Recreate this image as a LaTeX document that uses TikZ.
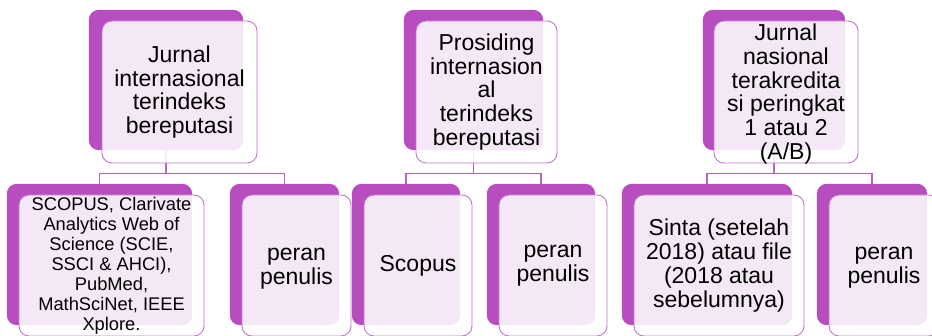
\documentclass[tikz,border=0pt]{standalone}
\usepackage{fontspec}
\setmainfont{Liberation Sans}
\definecolor{pback}{RGB}{183,77,191}
\definecolor{pline}{RGB}{192,118,202}
\definecolor{pconn}{RGB}{180,100,195}
\begin{document}
\begin{tikzpicture}[x=1pt,y=-1pt,
  box/.style 2 args={rectangle, minimum width=#1, minimum height=#2, inner sep=0pt, rounded corners=10pt},
  backbox/.style={fill=pback, draw=none},
  frontbox/.style={fill=white, fill opacity=0.875, draw=pline, line width=0.9pt},
  conn/.style={draw=pconn, line width=1.1pt},
  txt/.style={align=center, text=black, inner sep=0pt, font=\fontsize{23}{23.8}\selectfont},
  smalltxt/.style={align=center, text=black, inner sep=0pt, font=\fontsize{18.3}{20}\selectfont}]
\useasboundingbox (0,0) rectangle (932,336);
\clip (0,0) rectangle (932,336);
% back boxes (named, used by connectors)
\path
  (166,80) node[box={154pt}{140pt}] (t1b) {}
  (473.5,80) node[box={139pt}{140pt}] (t2b) {}
  (774,80) node[box={142pt}{140pt}] (t3b) {}
  (99.5,254.5) node[box={185pt}{141pt}] (c1b) {}
  (284.5,254.5) node[box={109pt}{141pt}] (c2b) {}
  (406,254.5) node[box={108pt}{141pt}] (c3b) {}
  (541,254.5) node[box={108pt}{141pt}] (c4b) {}
  (707,254.5) node[box={170pt}{141pt}] (c5b) {}
  (872,254.5) node[box={110pt}{141pt}] (c6b) {};
% connectors
\draw[conn] (c1b.north) -- ++(0,-10) -| (t1b.south);
\draw[conn] (c2b.north) -- ++(0,-10) -| (t1b.south);
\draw[conn] (c3b.north) -- ++(0,-10) -| (t2b.south);
\draw[conn] (c4b.north) -- ++(0,-10) -| (t2b.south);
\draw[conn] (c5b.north) -- ++(0,-10) -| (t3b.south);
\draw[conn] (c6b.north) -- ++(0,-10) -| (t3b.south);
% back fills
\foreach \n in {t1b,t2b,t3b,c1b,c2b,c3b,c4b,c5b,c6b}
  \fill[pback, rounded corners=10pt] (\n.north west) rectangle (\n.south east);
% front boxes
\node[box={155pt}{142pt}, frontbox] (t1f) at (179.5,92) {};
\node[box={141pt}{142pt}, frontbox] (t2f) at (486.5,92) {};
\node[box={144pt}{142pt}, frontbox] (t3f) at (786,92) {};
\node[box={185pt}{141pt}, frontbox] (c1f) at (111.5,265.5) {};
\node[box={109pt}{141pt}, frontbox] (c2f) at (296.5,265.5) {};
\node[box={108pt}{141pt}, frontbox] (c3f) at (418,265.5) {};
\node[box={108pt}{141pt}, frontbox] (c4f) at (553,265.5) {};
\node[box={170pt}{141pt}, frontbox] (c5f) at (719,265.5) {};
\node[box={110pt}{141pt}, frontbox] (c6f) at (884,265.5) {};
% texts
\node[txt] (t1t) at (t1f.center) {Jurnal\\internasional\\terindeks\\bereputasi};
\node[txt] (t2t) at (t2f.center) {Prosiding\\internasion\\al\\terindeks\\bereputasi};
\node[txt] (t3t) at ([yshift=-2pt]t3f.center) {Jurnal\\nasional\\terakredita\\si peringkat\\1 atau 2\\(A/B)};
\node[smalltxt] (c1t) at (c1f.center) {SCOPUS, Clarivate\\Analytics Web of\\Science (SCIE,\\SSCI \& AHCI),\\PubMed,\\MathSciNet, IEEE\\Xplore.};
\node[txt] (c2t) at ([yshift=-3pt]c2f.center) {peran\\penulis};
\node[txt] (c3t) at (c3f.center) {Scopus};
\node[txt] (c4t) at (c4f.center) {peran\\penulis};
\node[txt] (c5t) at (c5f.center) {Sinta (setelah\\2018) atau file\\(2018 atau\\sebelumnya)};
\node[txt] (c6t) at ([yshift=-2pt]c6f.center) {peran\\penulis};
\end{tikzpicture}
\end{document}
